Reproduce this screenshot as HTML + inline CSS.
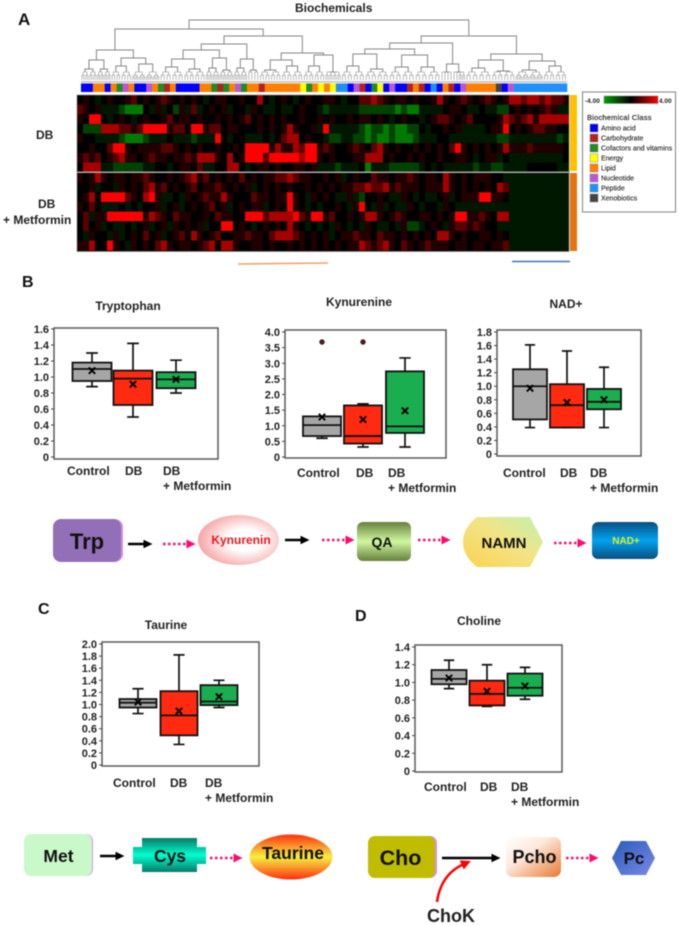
<!DOCTYPE html>
<html lang="en">
<head>
<meta charset="utf-8">
<title>Biochemicals heatmap and box plots</title>
<style>
html,body{margin:0;padding:0;background:#fff;width:679px;height:926px;overflow:hidden}
svg{display:block;filter:blur(0.45px)}
text{font-family:"Liberation Sans",sans-serif;font-weight:bold;fill:#222}
</style>
</head>
<body>
<svg id="fig" xmlns="http://www.w3.org/2000/svg" width="679" height="926" viewBox="0 0 679 926">
<defs>
<marker id="hb" markerWidth="4" markerHeight="4" refX="1" refY="2" orient="auto" markerUnits="strokeWidth"><path d="M0,0.3L3.6,2L0,3.7z" fill="#000"/></marker>
<marker id="hp" markerWidth="4" markerHeight="4" refX="1" refY="2" orient="auto" markerUnits="strokeWidth"><path d="M0,0.2L3.6,2L0,3.8z" fill="#ff0a6e"/></marker>
<marker id="hr" markerWidth="4" markerHeight="4" refX="1" refY="2" orient="auto" markerUnits="strokeWidth"><path d="M0,0L4,2L0,4z" fill="#f00"/></marker>
<linearGradient id="scale" x1="0" x2="1" y1="0" y2="0"><stop offset="0" stop-color="#00a000"/><stop offset=".5" stop-color="#000"/><stop offset="1" stop-color="#f00"/></linearGradient>
<radialGradient id="kyn" cx=".58" cy=".5" r=".62"><stop offset="0" stop-color="#fff"/><stop offset=".35" stop-color="#fff"/><stop offset="1" stop-color="#f59a9a"/></radialGradient>
<linearGradient id="qa" x1="0" x2="0" y1="0" y2="1"><stop offset="0" stop-color="#66803c"/><stop offset=".5" stop-color="#d0f8a0"/><stop offset="1" stop-color="#66803c"/></linearGradient>
<linearGradient id="namn" x1="0" x2="1" y1="1" y2="0"><stop offset="0" stop-color="#fcd24e"/><stop offset=".55" stop-color="#f2e486"/><stop offset="1" stop-color="#bdf2b0"/></linearGradient>
<linearGradient id="nad" x1="0" x2="0" y1="0" y2="1"><stop offset="0" stop-color="#0a4f80"/><stop offset=".5" stop-color="#00a4f0"/><stop offset="1" stop-color="#0a4f80"/></linearGradient>
<linearGradient id="cys" x1="0" x2="0" y1="0" y2="1"><stop offset="0" stop-color="#0a7a68"/><stop offset=".5" stop-color="#00ffd0"/><stop offset="1" stop-color="#0a7a68"/></linearGradient>
<linearGradient id="tau" x1="0" x2="0" y1="0" y2="1"><stop offset="0" stop-color="#ff3010"/><stop offset=".5" stop-color="#f6f040"/><stop offset="1" stop-color="#ff3010"/></linearGradient>
<linearGradient id="pcho" x1="0" x2="1" y1="0" y2="1"><stop offset="0" stop-color="#fff"/><stop offset=".4" stop-color="#fde8dc"/><stop offset="1" stop-color="#e87a30"/></linearGradient>
<linearGradient id="pc" x1="0" x2="1" y1="0" y2="1"><stop offset="0" stop-color="#2a5cb8"/><stop offset="1" stop-color="#7a88e8"/></linearGradient>
</defs>

<text x="18" y="25" font-size="17" style="fill:#111">A</text>
<text x="22" y="287" font-size="16" style="fill:#111">B</text>
<text x="38" y="614" font-size="16" style="fill:#111">C</text>
<text x="355" y="621" font-size="16" style="fill:#111">D</text>
<text x="295" y="12" font-size="12">Biochemicals</text>

<g id="dendro"></g>
<rect x="81" y="81" width="486" height="2" fill="#ccc"/>
<g id="classbar"></g>
<rect x="77" y="95" width="492" height="156.500" fill="#000"/>
<g id="heat"></g>
<rect x="77" y="171.500" width="492" height="1.500" fill="#aaa"/>
<rect x="77" y="95" width="492" height="156.500" fill="none" stroke="#888" stroke-width=".7"/>
<rect x="570" y="95" width="7" height="76" fill="#ffc000"/>
<rect x="570" y="173" width="7" height="78" fill="#e47310"/>
<text x="36" y="139" font-size="12">DB</text>
<text x="38" y="208" font-size="12">DB</text>
<text x="3" y="224" font-size="12">+ Metformin</text>
<line x1="238" y1="264" x2="328" y2="263" stroke="#f4a070" stroke-width="1.600"/>
<line x1="512" y1="261.500" x2="570" y2="261.500" stroke="#3f70c8" stroke-width="1.600"/>

<g>
<rect x="582.500" y="92" width="93" height="120" fill="#fff" stroke="#808080" stroke-width="1"/>
<text x="585" y="103" font-size="6.500">-4.00</text>
<rect x="604" y="96" width="54" height="7.500" fill="url(#scale)" stroke="#888" stroke-width=".5"/>
<text x="659" y="103" font-size="6.500">4.00</text>
<text x="587" y="120" font-size="7.500" style="font-weight:normal;letter-spacing:.2px;stroke:#222;stroke-width:.15px">Biochemical  Class</text>
<g id="legendItems"></g>
</g>

<g id="charts"></g>

<g>
<rect x="56" y="519" width="67" height="43" rx="8" fill="#cc90e8"/>
<rect x="53" y="519" width="68" height="43" rx="8" fill="#936fb8"/>
<text x="87" y="549" font-size="22" text-anchor="middle" style="fill:#111">Trp</text>
<line x1="128" y1="544" x2="146" y2="544" stroke="#000" stroke-width="2.500" marker-end="url(#hb)"/>
<line x1="163" y1="544" x2="189" y2="544" stroke="#ff0a6e" stroke-width="2.500" stroke-dasharray="2.500 2.500" marker-end="url(#hp)"/>
<ellipse cx="238.500" cy="540" rx="40.500" ry="25" fill="url(#kyn)"/>
<text x="241" y="544" font-size="12" text-anchor="middle" style="fill:#f0141e">Kynurenin</text>
<line x1="285" y1="540" x2="303" y2="540" stroke="#000" stroke-width="2.500" marker-end="url(#hb)"/>
<line x1="322" y1="540" x2="348" y2="540" stroke="#ff0a6e" stroke-width="2.500" stroke-dasharray="2.500 2.500" marker-end="url(#hp)"/>
<rect x="357" y="522" width="54" height="39" rx="6" fill="url(#qa)"/>
<text x="382" y="547" font-size="14" text-anchor="middle" style="fill:#111">QA</text>
<line x1="418" y1="540" x2="444" y2="540" stroke="#ff0a6e" stroke-width="2.500" stroke-dasharray="2.500 2.500" marker-end="url(#hp)"/>
<path d="M477,517H530L543,542L530,567H477Q463,556 463,542Q463,528 477,517Z" fill="url(#namn)"/>
<text x="504" y="548" font-size="15" text-anchor="middle" style="fill:#111">NAMN</text>
<line x1="554" y1="543" x2="580" y2="543" stroke="#ff0a6e" stroke-width="2.500" stroke-dasharray="2.500 2.500" marker-end="url(#hp)"/>
<rect x="592" y="522" width="66" height="37" rx="6" fill="url(#nad)"/>
<text x="626" y="544" font-size="10" text-anchor="middle" style="fill:#e0f020">NAD+</text>
</g>

<g>
<rect x="27" y="834" width="66" height="42" rx="7" fill="#e090e0"/>
<rect x="24" y="834" width="68" height="42" rx="7" fill="#c9f9c9"/>
<text x="58.500" y="862" font-size="17.500" text-anchor="middle" style="fill:#111">Met</text>
<line x1="100" y1="856" x2="118" y2="856" stroke="#000" stroke-width="2.500" marker-end="url(#hb)"/>
<path d="M142,838H197V847H206V864H197V872H142V864H133V847H142Z" fill="url(#cys)"/>
<text x="170" y="862" font-size="17.500" text-anchor="middle" style="fill:#111">Cys</text>
<line x1="210" y1="858" x2="236" y2="858" stroke="#ff0a6e" stroke-width="2.500" stroke-dasharray="2.500 2.500" marker-end="url(#hp)"/>
<ellipse cx="291" cy="857" rx="41.500" ry="22.500" fill="url(#tau)"/>
<text x="293" y="859" font-size="17.500" text-anchor="middle" style="fill:#111">Taurine</text>
</g>

<g>
<rect x="372" y="836" width="65" height="42" rx="7" fill="#d890e0"/>
<rect x="368" y="836" width="67" height="42" rx="7" fill="#c0bc00"/>
<text x="400.500" y="865" font-size="21.500" text-anchor="middle" style="fill:#111">Cho</text>
<line x1="442" y1="858" x2="494" y2="858" stroke="#000" stroke-width="2.500" marker-end="url(#hb)"/>
<path d="M437,902Q441,874 464,864" fill="none" stroke="#f00" stroke-width="2.500" marker-end="url(#hr)"/>
<text x="427" y="922" font-size="18" style="fill:#222">ChoK</text>
<rect x="506" y="837" width="55" height="40" rx="7" fill="url(#pcho)"/>
<text x="534.500" y="863" font-size="18" text-anchor="middle" style="fill:#111">Pcho</text>
<line x1="566" y1="858" x2="592" y2="858" stroke="#ff0a6e" stroke-width="2.500" stroke-dasharray="2.500 2.500" marker-end="url(#hp)"/>
<path d="M612,858L621,841H646L655,858L646,875H621Z" fill="url(#pc)"/>
<text x="634" y="864" font-size="17" text-anchor="middle" style="fill:#111">Pc</text>
</g>
</svg>

<script>
// ---- Box plot data ----
const groupNames = ["Control", "DB", "DB"];

const trpTicks = [0, 0.2, 0.4, 0.6, 0.8, 1.0, 1.2, 1.4, 1.6];
const trpLow = [0.88, 0.50, 0.80];
const trpQ1 = [0.95, 0.65, 0.86];
const trpMedian = [1.10, 0.98, 0.97];
const trpQ3 = [1.18, 1.08, 1.06];
const trpHigh = [1.30, 1.42, 1.21];
const trpMean = [1.08, 0.91, 0.97];
const trpOutliers = [null, null, null];

const kynTicks = [0, 0.5, 1.0, 1.5, 2.0, 2.5, 3.0, 3.5, 4.0];
const kynLow = [0.60, 0.32, 0.32];
const kynQ1 = [0.67, 0.43, 0.77];
const kynMedian = [1.02, 0.67, 0.98];
const kynQ3 = [1.30, 1.65, 2.74];
const kynHigh = [1.30, 1.70, 3.17];
const kynMean = [1.28, 1.20, 1.48];
const kynOutliers = [3.68, 3.68, null];

const nadTicks = [0, 0.2, 0.4, 0.6, 0.8, 1.0, 1.2, 1.4, 1.6, 1.8];
const nadLow = [0.39, 0.39, 0.39];
const nadQ1 = [0.51, 0.39, 0.66];
const nadMedian = [1.00, 0.72, 0.77];
const nadQ3 = [1.25, 1.03, 0.96];
const nadHigh = [1.61, 1.52, 1.28];
const nadMean = [0.97, 0.76, 0.80];
const nadOutliers = [null, null, null];

const tauTicks = [0, 0.2, 0.4, 0.6, 0.8, 1.0, 1.2, 1.4, 1.6, 1.8, 2.0];
const tauLow = [0.85, 0.34, 0.95];
const tauQ1 = [0.95, 0.49, 0.99];
const tauMedian = [1.03, 0.82, 1.05];
const tauQ3 = [1.09, 1.22, 1.32];
const tauHigh = [1.26, 1.82, 1.40];
const tauMean = [1.04, 0.89, 1.13];
const tauOutliers = [null, null, null];

const choTicks = [0, 0.2, 0.4, 0.6, 0.8, 1.0, 1.2, 1.4];
const choLow = [0.93, 0.73, 0.81];
const choQ1 = [0.98, 0.74, 0.85];
const choMedian = [1.04, 0.87, 0.94];
const choQ3 = [1.14, 1.02, 1.10];
const choHigh = [1.25, 1.20, 1.17];
const choMean = [1.05, 0.90, 0.96];
const choOutliers = [null, null, null];

// ---- Heatmap data (log scale, -4 green .. +4 red) ----
const heatRow01 = [0,1,0,-1,0,1,0,0,1,2, 0,1,0,1,2,1,0,1,0,1, 0,-1,0,1,1,0,0,1,0,0, 3,0,-1,0,1,0,-1,0,1,0, 0,1,1,0,-1,0,0,2,2,3, 2,1,0,1,1,0,1,0,0,1, 3,1,0,1,2,1,0,1,2,1, 0,1,3,3,2,3,3,2,3,2,2,1];
const heatRow02 = [2,1,0,1,-1,-1,-1,-2,-3,-3, -3,0,-1,1,-1,0,-2,1,-1,2, -1,0,1,0,1,-1,0,0,-1,1, 0,-1,-1,0,-1,-1,0,1,0,0, -1,-2,-1,-1,-1,-1,-1,-2,-2,-2, -2,-2,-2,-3,-2,-3,-3,-1,-1,-1, -1,0,1,1,0,-1,-1,0,-1,-1, -2,-2,0,1,0,1,0,1,2,1,-1,-1];
const heatRow03 = [1,0,4,4,0,-1,0,1,0,-1, 0,1,0,0,1,2,0,1,1,0, 1,0,0,1,0,1,0,1,2,0, 1,0,1,0,1,0,0,1,0,0, 1,0,1,0,0,1,0,1,1,0, 1,0,-1,0,1,0,0,-1,0,1, 2,2,1,0,1,2,0,0,0,0, 1,3,2,1,2,3,1,3,3,3,3,3];
const heatRow04 = [0,-2,-2,-2,3,3,3,2,2,1, 2,4,4,4,4,1,2,2,0,4, 4,1,2,2,0,1,1,0,0,0, 1,0,1,0,1,3,1,0,0,1, -1,4,-1,-1,-1,-1,-1,-2,-3,-2, -2,-3,-2,-3,-3,-2,-2,0,-1,0, 0,1,0,1,-1,-1,-1,-1,0,1, 1,4,0,1,0,1,2,2,1,1,0,0];
const heatRow05 = [1,0,0,-1,-1,-1,-1,-2,-3,-3, -3,-2,-1,-1,-1,0,-1,-1,-1,-2, -1,-1,-1,4,0,-1,0,0,-1,-1, -1,0,-1,0,2,3,3,0,1,0, 0,-1,-2,-2,-1,-1,-2,-2,-3,-2, -3,-3,-2,-3,-3,-3,-2,-1,-1,-1, 0,0,-1,-1,-1,-1,-1,-1,-1,-1, -2,-2,-1,-1,-1,-1,-1,-1,-1,-1,-2,-1];
const heatRow06 = [0,0,1,0,0,2,4,4,1,0, 1,1,1,1,2,2,1,0,1,0, 1,0,0,1,0,0,1,0,4,4, 4,4,1,3,1,1,3,2,4,4, 1,2,1,0,0,1,2,1,0,2, 3,1,0,1,0,0,1,0,1,0, 1,0,2,4,1,0,1,0,1,0, 1,3,1,1,1,2,1,1,1,1,1,0];
const heatRow07 = [1,2,1,2,0,1,2,3,1,1, 0,1,2,1,1,0,1,1,2,1, 3,3,3,1,0,3,0,1,4,4, 4,2,4,4,4,4,4,3,4,4, 1,0,1,0,0,0,1,1,3,3, 3,0,1,0,0,1,0,1,0,0, 1,0,0,1,1,0,-1,0,1,1, -1,0,-1,-1,-1,-1,-1,-1,-1,-1,-1,0];
const heatRow08 = [0,3,3,3,-1,-1,-2,-2,-2,-2, -2,-1,-1,0,0,-1,0,1,1,0, 2,-1,-1,0,0,3,3,0,-1,0, 1,1,0,1,0,0,1,1,0,1, -1,-1,-1,-2,-1,-1,-1,0,-3,-1, -1,-1,-2,-2,-2,-2,-2,-1,0,-1, 0,-1,-1,-1,-1,-1,-2,-1,-1,-2, -2,-1,-1,-1,-1,0,0,0,0,0,-1,-1];
const heatRow09 = [1,0,1,3,1,0,1,1,0,1, 1,2,1,0,0,1,0,1,2,3, 1,2,0,1,0,1,0,2,0,1, 0,1,1,2,2,3,2,1,1,0, 0,1,0,1,-1,0,1,0,0,2, 1,1,0,1,1,2,1,0,1,1, 0,3,1,0,1,0,1,1,1,0, 0,-1,-1,-1,-1,-1,-1,-1,-1,-1,-1,-1];
const heatRow10 = [0,0,1,-1,0,0,-1,1,0,1, 0,2,3,1,2,0,1,0,1,2, 0,1,1,2,1,0,1,0,1,-1, 0,1,0,1,0,1,0,0,1,0, 1,0,1,0,1,1,2,2,3,2, 2,3,1,2,1,1,1,0,1,1, 1,3,1,0,1,0,1,0,1,0, 3,2,-1,-1,-1,-1,-1,-1,-1,-1,-1,-1];
const heatRow11 = [0,1,3,0,4,4,4,4,2,1, 0,3,4,1,-1,-1,0,-1,1,0, 1,2,1,1,3,1,0,0,0,2, 1,1,0,1,1,4,1,0,-1,1, 0,1,0,-1,-1,1,-1,-2,0,0, 1,0,-1,-1,1,0,-1,0,-1,-1, 0,1,-1,0,1,1,1,4,4,1, 1,0,-1,-1,-1,-1,-1,-1,-1,-1,-1,-1];
const heatRow12 = [1,0,2,0,-1,-1,-1,0,-1,0, -1,0,0,1,-1,0,1,-1,0,1, 0,1,2,0,1,-1,0,1,0,1, 1,-1,0,1,0,4,1,0,-1,0, -1,0,0,1,0,-1,1,4,0,-1, 1,-1,0,-1,-1,1,0,-1,0,0, -1,1,0,-1,-1,-1,-1,-1,-1,-1, -1,-1,-1,-1,-1,-1,-1,-1,-1,-1,-1,-1];
const heatRow13 = [0,2,-1,1,1,4,4,4,4,4, 4,1,3,2,1,0,2,1,1,0, 0,1,0,2,1,1,0,0,4,4, 4,2,3,3,3,3,4,2,1,4, 4,1,2,0,0,1,0,1,3,3, 1,0,1,2,1,0,0,1,1,0, 1,0,1,4,4,1,1,2,1,0, 3,3,-1,-1,-1,-1,-1,-1,-1,-1,-1,-1];
const heatRow14 = [0,2,0,1,-1,0,-1,-1,0,-1, 0,1,-1,0,1,-1,1,0,1,0, 1,-1,0,0,4,4,0,1,0,-1, 0,1,0,1,0,3,1,0,-1,0, -1,0,-1,1,0,-1,0,-1,1,0, -1,-1,0,-1,1,-2,-2,-1,0,1, 0,-1,1,2,2,1,2,1,0,0, -1,-1,-1,-1,-1,-1,-1,-1,-1,-1,-1,-1];
const heatRow15 = [0,-1,1,0,0,-1,1,-1,0,1, 0,2,0,1,-1,0,1,2,0,3, 1,0,1,2,0,0,1,1,2,1, 1,0,2,3,3,3,2,1,0,1, 0,1,-1,0,1,1,2,1,1,0, 2,1,1,0,1,0,1,0,1,0, 3,3,1,0,1,0,0,1,1,0, 1,0,-1,-1,-1,-1,-1,-1,-1,-1,-1,-1];
const heatRow16 = [1,1,3,0,0,4,1,0,-1,1, 0,1,0,2,3,1,0,1,1,0, 1,2,3,0,3,3,1,0,0,1, 1,0,1,0,0,1,0,1,0,1, 0,1,0,1,0,1,1,3,2,1, 2,3,1,0,2,1,0,1,2,1, 1,1,0,1,1,0,1,1,0,1, 1,2,-1,-1,-1,-1,-1,-1,-1,-1,-1,-1];

// ---- Biochemical classes ----
const classNames = ["Amino acid","Carbohydrate","Cofactors and vitamins","Energy","Lipid","Nucleotide","Peptide","Xenobiotics"];
const classColors = ["#0000ff","#b22222","#228b22","#ffff00","#ff8000","#ba55d3","#1e90ff","#444444"];
const classSequence = [0,0,4,4,0,4,2,5,4,0, 0,5,4,2,1,4,0,0,0,0, 4,4,2,1,2,4,5,2,4,4, 1,4,4,4,4,4,4,3,2,4, 3,4,3,6, 6,0,5,1,0,2,3,0,5,0, 0,1,4,1,0,6,0,4,1,0,5, 4,4,4,4,4, 7,0,5, 6,6,6,6,6,6,6,6,6];

// ---- Dendrogram topology: [merge height, left, right]; number = leaf cluster size ----
const dendrogramTree = [60,
  [51,
    [30, [20,[11,8,8],[11,7,7]], [22,[14,10,11],[16,14,14]]],
    [44,
      [36, [30,[21,[13,12,12],[11,11,11]],[22,[12,7,7],[10,7,7]]], [21,[12,7,7],[10,6,6]]],
      [27, [20,[10,11,11],[14,11,11]], [25,[14,11,11],[8,8,8]]]
    ]
  ],
  [44,
    [37, [31,[26,[14,12,12],[11,12,12]],[25,[13,13,13],[13,13,13]]], [16,[8,6,6],[8,6,7]]],
    [26, [20,[12,13,13],[9,12,12]], [19,[10,14,14],[14,12,12]]]
  ]
];

const SVG_NS = "http://www.w3.org/2000/svg";
const root = document.getElementById("charts");

function shape(parent, tag, attrs, content) {
  const el = document.createElementNS(SVG_NS, tag);
  for (const k in attrs) el.setAttribute(k, attrs[k]);
  if (content !== undefined) el.textContent = content;
  parent.appendChild(el);
  return el;
}

function leafCount(n) {
  return typeof n === "number" ? n : leafCount(n[1]) + leafCount(n[2]);
}

function drawDendrogram() {
  const g = document.getElementById("dendro");
  const baseY = 80;
  const startX = 81;
  const scale = 486 / leafCount(dendrogramTree);
  let cursor = startX;
  let d = "";
  let fine = "";
  function mini(x0, w, h) {
    if (w < 3.4) { return { x: x0 + w / 2, h: 0 }; }
    const a = mini(x0, w / 2, h * 0.6);
    const b = mini(x0 + w / 2, w / 2, h * 0.6);
    fine += "M" + a.x + "," + (baseY - a.h) + "V" + (baseY - h) + "H" + b.x + "V" + (baseY - b.h);
    return { x: (a.x + b.x) / 2, h: h };
  }
  function walk(n) {
    if (typeof n === "number") {
      const w = n * scale;
      const r = mini(cursor, w, 8);
      cursor += w;
      return r;
    }
    const a = walk(n[1]);
    const b = walk(n[2]);
    const y = baseY - n[0];
    d += "M" + a.x + "," + (baseY - a.h) + "V" + y + "H" + b.x + "V" + (baseY - b.h);
    return { x: (a.x + b.x) / 2, h: n[0] };
  }
  walk(dendrogramTree);
  const p = shape(g, "path", { d: d, fill: "none", stroke: "#858585", "stroke-width": 1 });
  
  
  const q = shape(g, "path", { d: fine, fill: "none", stroke: "#aaaaaa", "stroke-width": 0.8 });
  
  
}

function drawClassBar() {
  const g = document.getElementById("classbar");
  const w = 486 / classSequence.length;
  classSequence.forEach(function (c, i) {
    const r = shape(g, "rect", { x: 81 + i * w, y: 83.5, width: w + 0.3, height: 8.5, fill: classColors[c] });
    
    
  });
}

function heatColor(v) {
  const t = Math.pow(Math.min(1, Math.abs(v) / 4), 1.5);
  if (v >= 0) return "rgb(" + Math.round(t * 255) + ",0,0)";
  return "rgb(0," + Math.round(t * 190) + ",0)";
}

function drawHeatmap() {
  const g = document.getElementById("heat");
  const rows = [heatRow01, heatRow02, heatRow03, heatRow04, heatRow05, heatRow06, heatRow07, heatRow08,
                heatRow09, heatRow10, heatRow11, heatRow12, heatRow13, heatRow14, heatRow15, heatRow16];
  const left = 77;
  const cw = 492 / rows[0].length;
  const rh = 9.65;
  rows.forEach(function (row, r) {
    const top = r < 8 ? 95 + r * rh : 173 + (r - 8) * rh;
    row.forEach(function (v, c) {
      const cell = shape(g, "rect", { x: left + c * cw, y: top, width: cw + 0.2, height: rh + 0.2, fill: heatColor(v) });
      
      
    });
  });
}

function drawLegend() {
  const g = document.getElementById("legendItems");
  classNames.forEach(function (name, i) {
    const y = 124 + i * 10;
    const sw = shape(g, "rect", { x: 590, y: y, width: 8, height: 8, fill: classColors[i], stroke: "#888", "stroke-width": 0.5 });
    
    
    const t = shape(g, "text", { x: 601, y: y + 6.5, "font-size": 7, style: "font-weight:normal;stroke:#222;stroke-width:.12px" }, name);
    
    
  });
}

const boxColors = ["#a6a6a6", "#ff2a10", "#1bae50"];

function drawBoxPlot(cfg) {
  const g = shape(root, "g", {});
  
  

  const maxTick = cfg.ticks[cfg.ticks.length - 1];
  const yOf = function (v) { return cfg.y0 - (v / maxTick) * (cfg.y0 - cfg.yMax); };

  const title = shape(g, "text", { x: cfg.titleX, y: cfg.titleY, "font-size": 12, "text-anchor": "middle" }, cfg.title);
  
  

  const frame = shape(g, "rect", { x: cfg.left, y: cfg.top, width: cfg.right - cfg.left, height: cfg.bottom - cfg.top, fill: "#fff", stroke: "#5a5a5a", "stroke-width": 1.5 });
  
  

  cfg.ticks.forEach(function (t) {
    const y = yOf(t);
    const tick = shape(g, "line", { x1: cfg.left - 3, x2: cfg.left, y1: y, y2: y, stroke: "#444", "stroke-width": 1 });
    
    
    const label = shape(g, "text", { x: cfg.left - 5, y: y + 4, "font-size": 11, "text-anchor": "end" }, t === 0 ? "0" : t.toFixed(1));
    
    
  });

  cfg.centers.forEach(function (cx, i) {
    const half = cfg.boxWidth / 2;
    const cap = half * 0.3;
    const stem = shape(g, "path", {
      d: "M" + cx + "," + yOf(cfg.high[i]) + "V" + yOf(cfg.low[i]) +
         "M" + (cx - cap) + "," + yOf(cfg.high[i]) + "h" + (2 * cap) +
         "M" + (cx - cap) + "," + yOf(cfg.low[i]) + "h" + (2 * cap),
      stroke: "#111", "stroke-width": 1.7, fill: "none"
    });
    
    

    const box = shape(g, "rect", {
      x: cx - half, y: yOf(cfg.q3[i]), width: cfg.boxWidth, height: yOf(cfg.q1[i]) - yOf(cfg.q3[i]),
      fill: boxColors[i], stroke: "#111", "stroke-width": 1.8
    });
    
    

    const med = shape(g, "line", { x1: cx - half, x2: cx + half, y1: yOf(cfg.median[i]), y2: yOf(cfg.median[i]), stroke: "#111", "stroke-width": 1.8 });
    
    

    const my = yOf(cfg.mean[i]);
    const mean = shape(g, "path", { d: "M" + (cx - 3.2) + "," + (my - 3.2) + "l6.4,6.4M" + (cx + 3.2) + "," + (my - 3.2) + "l-6.4,6.4", stroke: "#000", "stroke-width": 1.9, fill: "none" });
    
    

    if (cfg.outliers[i] !== null) {
      const o = shape(g, "circle", { cx: cx, cy: yOf(cfg.outliers[i]), r: 2.3, fill: "#5a1a1a", stroke: "#222", "stroke-width": 0.8 });
      
      
    }
  });

  groupNames.forEach(function (name, i) {
    const t = shape(g, "text", { x: cfg.labelX[i], y: cfg.labelY, "font-size": 12 }, name);
    
    
  });
  const second = shape(g, "text", { x: cfg.labelX[2], y: cfg.labelY + 15, "font-size": 12 }, "+ Metformin");
  
  
}

drawDendrogram();
drawClassBar();
drawHeatmap();
drawLegend();

drawBoxPlot({ title: "Tryptophan", titleX: 128, titleY: 310, ticks: trpTicks, left: 54, right: 218, top: 328, bottom: 459, y0: 457, yMax: 329,
  centers: [92, 133, 176], boxWidth: 39, low: trpLow, q1: trpQ1, median: trpMedian, q3: trpQ3, high: trpHigh, mean: trpMean, outliers: trpOutliers,
  labelX: [67, 125, 163], labelY: 475 });
drawBoxPlot({ title: "Kynurenine", titleX: 359, titleY: 306, ticks: kynTicks, left: 285, right: 446, top: 330, bottom: 458, y0: 457, yMax: 332,
  centers: [322, 363, 405], boxWidth: 38, low: kynLow, q1: kynQ1, median: kynMedian, q3: kynQ3, high: kynHigh, mean: kynMean, outliers: kynOutliers,
  labelX: [297, 356, 388], labelY: 477 });
drawBoxPlot({ title: "NAD+", titleX: 566, titleY: 308, ticks: nadTicks, left: 497, right: 641, top: 330, bottom: 456, y0: 454, yMax: 332,
  centers: [530, 567, 604], boxWidth: 34, low: nadLow, q1: nadQ1, median: nadMedian, q3: nadQ3, high: nadHigh, mean: nadMean, outliers: nadOutliers,
  labelX: [503, 560, 590], labelY: 477 });
drawBoxPlot({ title: "Taurine", titleX: 166, titleY: 629, ticks: tauTicks, left: 102, right: 259, top: 642, bottom: 766, y0: 765, yMax: 644,
  centers: [138, 179, 219], boxWidth: 37, low: tauLow, q1: tauQ1, median: tauMedian, q3: tauQ3, high: tauHigh, mean: tauMean, outliers: tauOutliers,
  labelX: [113, 170, 205], labelY: 787 });
drawBoxPlot({ title: "Choline", titleX: 479, titleY: 625, ticks: choTicks, left: 415, right: 562, top: 645, bottom: 772, y0: 771, yMax: 647,
  centers: [449, 487, 525], boxWidth: 35, low: choLow, q1: choQ1, median: choMedian, q3: choQ3, high: choHigh, mean: choMean, outliers: choOutliers,
  labelX: [424, 480, 511], labelY: 791 });
</script>
</body>
</html>
